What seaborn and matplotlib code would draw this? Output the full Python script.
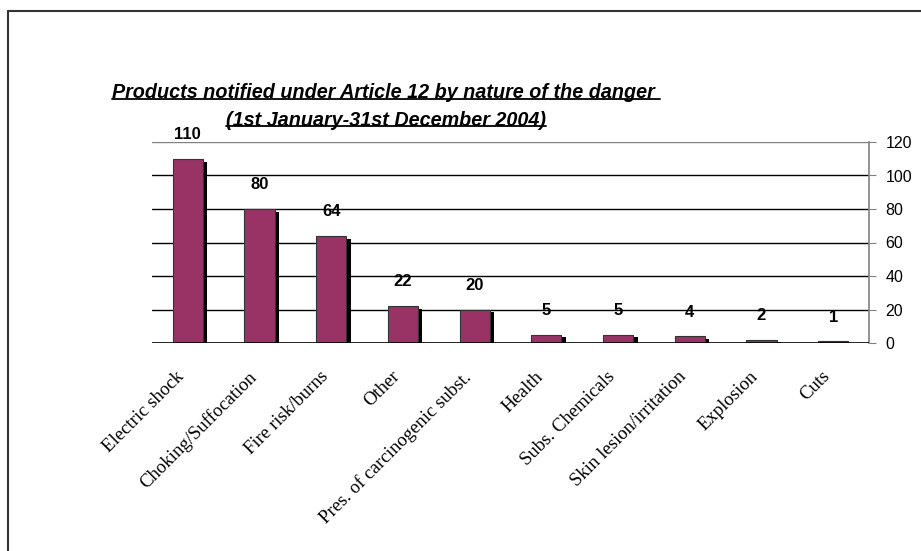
import matplotlib
matplotlib.use('Agg')
import pandas as pd
import matplotlib.pyplot as plt
import matplotlib.patheffects as pe
import matplotlib.transforms as mtransforms
from matplotlib.lines import Line2D
import seaborn as sns

categories = ['Electric shock', 'Choking/Suffocation', 'Fire risk/burns', 'Other',
              'Pres. of carcinogenic subst.', 'Health', 'Subs. Chemicals',
              'Skin lesion/irritation', 'Explosion', 'Cuts']
counts = [110, 80, 64, 22, 20, 5, 5, 4, 2, 1]
yticks = [0, 20, 40, 60, 80, 100, 120]

data = pd.DataFrame({'danger': categories, 'count': counts})

sns.set_style('white')
plt.rcParams['font.family'] = ['Liberation Sans', 'DejaVu Sans']
plt.rcParams['text.color'] = 'black'
plt.rcParams['xtick.color'] = 'black'
plt.rcParams['ytick.color'] = 'black'

fig = plt.figure(figsize=(9.21, 5.51), dpi=100)
ax = fig.add_axes([152 / 921, 1 - 343 / 551, (869 - 152) / 921, (343 - 142) / 551])

sns.barplot(x='danger', y='count', data=data, ax=ax, color='#993366',
            saturation=1, width=0.42, edgecolor='#333333', linewidth=0.8, zorder=3)
for bar in ax.patches:
    bar.set_path_effects([pe.SimplePatchShadow(offset=(3.2, -2.0), shadow_rgbFace='black', alpha=1),
                          pe.Normal()])

for i, v in enumerate(counts):
    ax.annotate(str(v), (i, v), xytext=(0, 12), textcoords='offset points',
                ha='center', va='bottom', fontsize=12, fontweight='bold', color='black')

ax.set_ylim(0, 120)
ax.set_xlim(-0.5, len(categories) - 0.5)
ax.set_yticks(yticks)
ax.yaxis.tick_right()
ax.tick_params(axis='y', direction='out', length=5, color='#808080', labelcolor='black',
               labelsize=11.5, pad=7)
ax.tick_params(axis='x', length=0, pad=18)
for y in yticks[1:-1]:
    ax.axhline(y, color='black', linewidth=1, zorder=1)
ax.axhline(120, color='#808080', linewidth=1, zorder=1)
ax.axhline(0, color='black', linewidth=1.2, zorder=4)

for s in ['left', 'top', 'bottom']:
    ax.spines[s].set_visible(False)
ax.spines['right'].set_color('#808080')
ax.spines['right'].set_linewidth(1.2)

ax.set_xticks(range(len(categories)))
ax.set_xticklabels(categories, rotation=45, ha='right', va='top', rotation_mode='anchor',
                   fontsize=13.5, family='Liberation Serif', color='black')
shift = mtransforms.ScaledTranslation(-12 / 100, 0, fig.dpi_scale_trans)
for lab in ax.get_xticklabels():
    lab.set_transform(lab.get_transform() + shift)
ax.set_xlabel('')
ax.set_ylabel('')

t1 = fig.text(386 / 921, 1 - 93 / 551, 'Products notified under Article 12 by nature of the danger ',
              ha='center', va='center', fontsize=14.2, fontweight='bold', style='italic')
t2 = fig.text(386 / 921, 1 - 120 / 551, '(1st January-31st December 2004)',
              ha='center', va='center', fontsize=14.2, fontweight='bold', style='italic')

# underline the title lines
fig.canvas.draw()
r = fig.canvas.get_renderer()
for t in (t1, t2):
    bb = t.get_window_extent(r).transformed(fig.transFigure.inverted())
    yl = bb.y0 + 0.006
    fig.add_artist(Line2D([bb.x0, bb.x1], [yl, yl], color='black', linewidth=1.3,
                          transform=fig.transFigure))

# chart frame (left and top edges visible)
fig.add_artist(Line2D([8 / 921, 8 / 921], [0, 1 - 11 / 551], color='#333333', linewidth=1.5,
                      transform=fig.transFigure))
fig.add_artist(Line2D([8 / 921, 1], [1 - 11 / 551, 1 - 11 / 551], color='#333333', linewidth=1.5,
                      transform=fig.transFigure))

fig.savefig('out.png', dpi=100)
